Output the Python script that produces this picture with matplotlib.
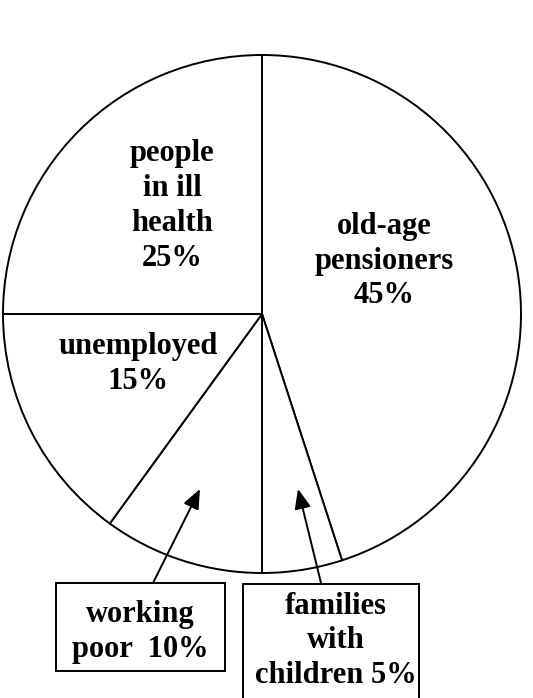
import matplotlib
matplotlib.use("Agg")
import matplotlib.pyplot as plt
from matplotlib.patches import Rectangle

# slices, clockwise from the top
labels = ["old-age\npensioners\n45%", "families\nwith\nchildren 5%", "working\npoor  10%",
          "unemployed\n15%", "people\nin ill\nhealth\n25%"]
shares = [45, 5, 10, 15, 25]

W, H = 533, 698
fig = plt.figure(figsize=(W / 100, H / 100), dpi=100)
ax = fig.add_axes([0, 0, 1, 1])

font = dict(family="Liberation Serif", weight="bold", fontsize=22, linespacing=1.26,
            ha="center", va="center")
lw = 1.4

def py(y):
    # pixel row (from top) -> axis y
    return H - y

ax.pie(shares, startangle=90, counterclock=False, center=(262, py(314)), radius=259,
       wedgeprops=dict(facecolor="white", edgecolor="black", linewidth=lw))

# labels inside the pie
ax.text(172, py(206), labels[4], **font)
ax.text(384, py(261), labels[0], **font)
ax.text(138, py(364), labels[3], **font)

# boxed labels below
ax.add_patch(Rectangle((56, py(671)), 169, 88, facecolor="white", edgecolor="black", linewidth=lw))
ax.add_patch(Rectangle((243, py(720)), 176, 136, facecolor="white", edgecolor="black", linewidth=lw))
ax.text(140, py(632), labels[2], **font)
ax.text(336, py(641), labels[1], **font)

arrow = dict(arrowstyle="-|>,head_length=0.6,head_width=0.25", color="black", lw=lw,
             mutation_scale=20, shrinkA=0, shrinkB=0)
ax.annotate("", xy=(200, py(489)), xytext=(153, py(583)), arrowprops=arrow)
ax.annotate("", xy=(298, py(489)), xytext=(321, py(583)), arrowprops=arrow)

ax.set_xlim(0, W)
ax.set_ylim(0, H)
ax.set_aspect("auto")
ax.set_axis_off()

fig.savefig("out.png", dpi=100, facecolor="white")
